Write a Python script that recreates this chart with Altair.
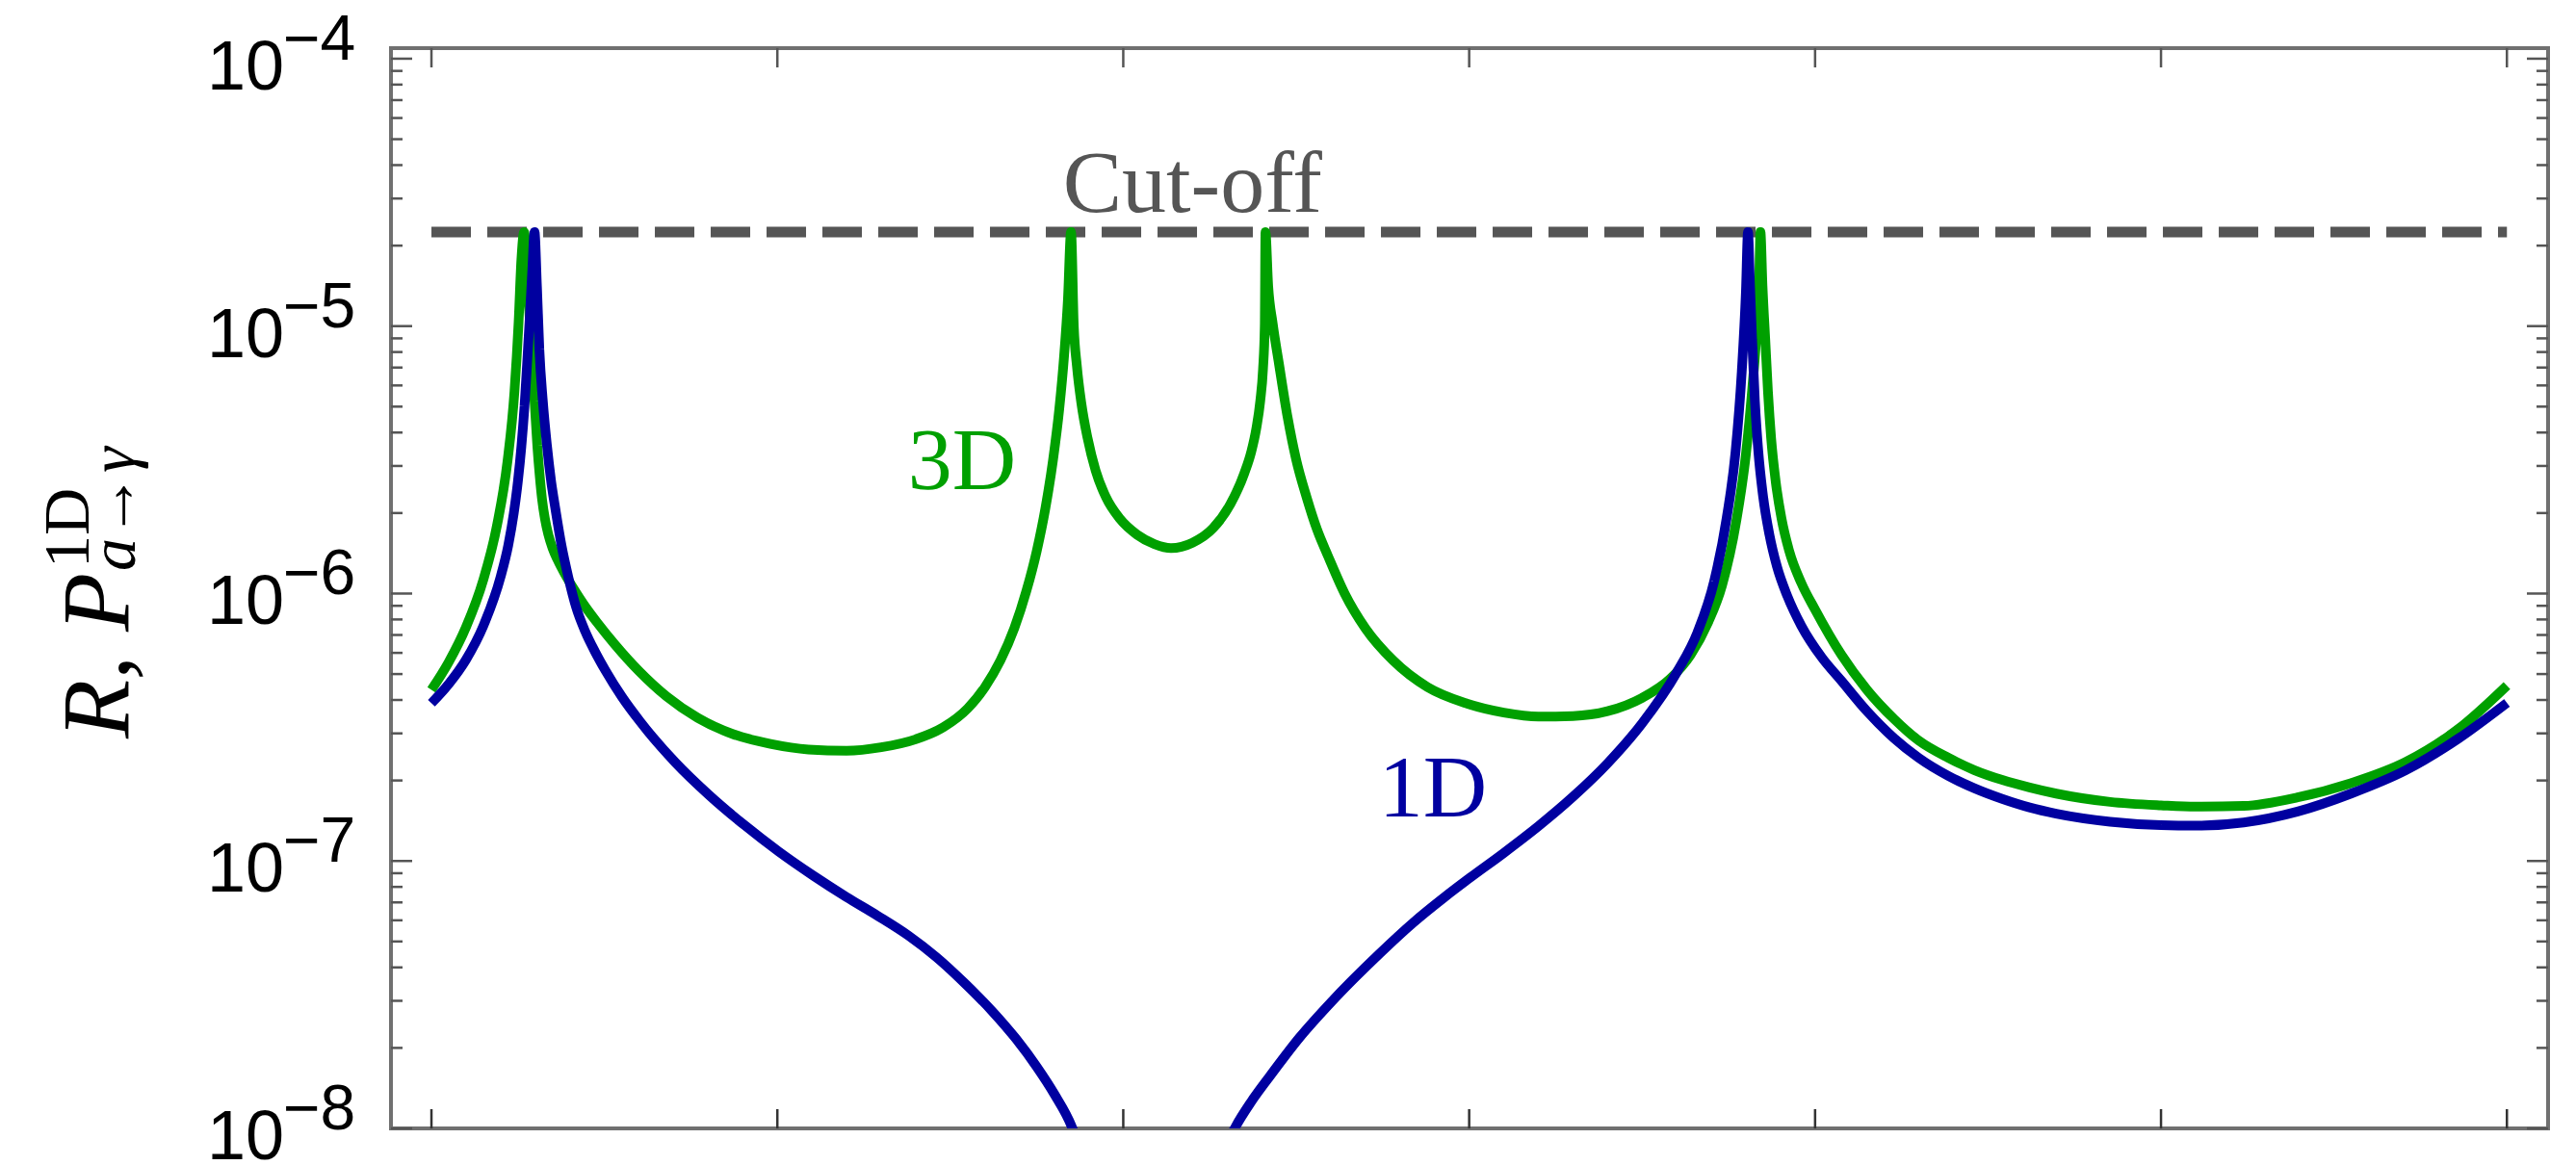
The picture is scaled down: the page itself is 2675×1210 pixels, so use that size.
import altair as alt
import pandas as pd

# ---- curve samples: position (tick units) and log10 of the value ----
green_t = [0.00, 0.05, 0.10, 0.15, 0.19, 0.22, 0.24, 0.252, 0.260, 0.268,
           0.276, 0.283, 0.290, 0.298, 0.306, 0.313, 0.320, 0.328, 0.338, 0.350, 0.365, 0.385,
           0.41, 0.44, 0.48, 0.53, 0.60, 0.68, 0.77, 0.87, 0.98, 1.09, 1.20, 1.30, 1.40, 1.48, 1.55,
           1.60, 1.645, 1.685, 1.72, 1.75, 1.775, 1.797, 1.815, 1.829, 1.840, 1.849,
           1.857, 1.866, 1.879, 1.897, 1.92, 1.95, 1.99, 2.04, 2.09, 2.138, 2.20, 2.26,
           2.31, 2.35, 2.37, 2.385, 2.396, 2.404, 2.409, 2.411,
           2.419, 2.432, 2.45, 2.475, 2.50, 2.53, 2.56, 2.592, 2.64, 2.70, 2.78, 2.88,
           2.99, 3.10, 3.20, 3.30, 3.40, 3.50, 3.58, 3.64, 3.69, 3.731, 3.772, 3.800,
           3.818, 3.830, 3.838, 3.842,
           3.848, 3.856, 3.864, 3.873, 3.886, 3.903, 3.925, 3.96, 4.00, 4.076, 4.15,
           4.229, 4.30, 4.385, 4.46, 4.541, 4.62, 4.697, 4.853, 5.0, 5.1, 5.239, 5.395,
           5.551, 5.707, 5.860, 6.00]
green_lg = [-6.36, -6.256, -6.125, -5.948, -5.742, -5.504, -5.244, -4.984, -4.75, -4.648,
            -4.80, -4.95, -5.087, -5.28, -5.447, -5.56, -5.65, -5.72, -5.78, -5.83, -5.875, -5.925,
            -5.98, -6.04, -6.11, -6.19, -6.29, -6.385, -6.465, -6.525, -6.562, -6.583, -6.588, -6.575, -6.545, -6.50, -6.43,
            -6.35, -6.25, -6.13, -5.99, -5.84, -5.68, -5.50, -5.31, -5.11, -4.90, -4.648,
            -5.00, -5.15, -5.29, -5.42, -5.54, -5.64, -5.72, -5.78, -5.815, -5.83, -5.81, -5.755,
            -5.665, -5.55, -5.47, -5.38, -5.28, -5.16, -5.00, -4.648,
            -4.85, -4.99, -5.14, -5.34, -5.50, -5.64, -5.76, -5.86, -6.00, -6.13, -6.25, -6.35,
            -6.41, -6.445, -6.46, -6.458, -6.44, -6.39, -6.32, -6.23, -6.11, -5.97, -5.73, -5.48,
            -5.24, -5.04, -4.85, -4.648,
            -4.85, -5.05, -5.25, -5.42, -5.58, -5.72, -5.84, -5.96, -6.06, -6.229, -6.36,
            -6.470, -6.55, -6.614, -6.66, -6.697, -6.725, -6.748, -6.779, -6.792, -6.797, -6.794, -6.762,
            -6.708, -6.630, -6.506, -6.344]

blue_t = [0.00, 0.05, 0.10, 0.15, 0.20, 0.222, 0.238, 0.25, 0.26, 0.269, 0.277, 0.285, 0.292, 0.298,
          0.305, 0.312, 0.322, 0.334, 0.346, 0.359, 0.376, 0.396, 0.418, 0.444, 0.474, 0.504,
          0.55, 0.604, 0.704, 0.804, 0.904, 1.004, 1.104, 1.20, 1.29, 1.38, 1.46, 1.54, 1.62,
          1.69, 1.75, 1.80, 1.851, 1.88, 1.92, 2.24, 2.285, 2.325, 2.37, 2.419, 2.511, 2.603,
          2.742, 2.837, 2.929, 3.0, 3.1, 3.2, 3.3, 3.4, 3.5, 3.6, 3.66, 3.708, 3.744, 3.770,
          3.788, 3.800, 3.806, 3.812, 3.818, 3.826, 3.836, 3.850, 3.868, 3.89, 3.92, 3.96,
          4.02, 4.076, 4.15, 4.229, 4.30, 4.385, 4.46, 4.541, 4.62, 4.697, 4.853, 5.0, 5.1,
          5.239, 5.395, 5.551, 5.707, 5.860, 6.00]
blue_lg = [-6.41, -6.338, -6.247, -6.121, -5.937, -5.82, -5.70, -5.58, -5.45, -5.30, -5.13, -4.95, -4.78, -4.648,
           -4.85, -5.087, -5.28, -5.447, -5.58, -5.689, -5.82, -5.94, -6.05, -6.14, -6.22, -6.29,
           -6.385, -6.48, -6.63, -6.755, -6.865, -6.965, -7.055, -7.135, -7.205, -7.28, -7.36, -7.455, -7.56,
           -7.665, -7.77, -7.87, -7.993, -8.1, -8.4, -8.4, -8.1, -7.993, -7.90, -7.813, -7.658, -7.525,
           -7.345, -7.232, -7.135, -7.065, -6.97, -6.87, -6.76, -6.635, -6.485, -6.295, -6.145, -5.955, -5.72, -5.47,
           -5.17, -4.87, -4.648, -4.85, -5.05, -5.28, -5.47, -5.64, -5.78, -5.90, -6.01, -6.12,
           -6.24, -6.326, -6.44, -6.542, -6.615, -6.682, -6.728, -6.768, -6.80, -6.823, -6.853, -6.866, -6.868,
           -6.856, -6.815, -6.747, -6.661, -6.542, -6.409]

cutoff_lg = -4.648
cutoff_span = [0.0, 6.0]
x_ticks = [0, 1, 2, 3, 4, 5, 6]
decades = [-8, -7, -6, -5, -4]
minor_mult = [2, 3, 4, 5, 6, 7, 8, 9]

# ---- layout ----
W, H = 2240, 1122
x_scale = alt.Scale(domain=[-0.117, 6.119], nice=False, zero=False)
y_scale = alt.Scale(type="log", domain=[1e-8, 1.095e-4], nice=False)

GREEN = "#00a000"
BLUE = "#0000a0"
GRAY = "#555555"
FRAME = "#707070"

green_df = pd.DataFrame({"t": green_t, "v": [10 ** g for g in green_lg]})
blue_df = pd.DataFrame({"t": blue_t, "v": [10 ** b for b in blue_lg]})
cut_df = pd.DataFrame({"t0": [cutoff_span[0]], "t1": [cutoff_span[1]], "v": [10 ** cutoff_lg]})

majors = pd.DataFrame({"v": [10.0 ** d for d in decades],
                       "exp": ["\u2212" + str(-d) for d in decades]})
minors = pd.DataFrame({"v": [m * 10.0 ** d for d in decades[:-1] for m in minor_mult]})
xt = pd.DataFrame({"t": x_ticks})

X = lambda f: alt.X(f, scale=x_scale, axis=None)
Y = lambda f: alt.Y(f, scale=y_scale, axis=None)

line_style = dict(clip=True, strokeWidth=10, interpolate="monotone", strokeJoin="bevel")

green_line = alt.Chart(green_df).mark_line(color=GREEN, **line_style).encode(x=X("t:Q"), y=Y("v:Q"))
blue_line = alt.Chart(blue_df).mark_line(color=BLUE, **line_style).encode(x=X("t:Q"), y=Y("v:Q"))

cut_line = alt.Chart(cut_df).mark_rule(color=GRAY, strokeWidth=11, strokeDash=[41, 17]).encode(
    x=X("t0:Q"), x2="t1:Q", y=Y("v:Q"))

# inward frame ticks
tick_col = "#555555"
left_major = alt.Chart(majors).mark_rule(color=tick_col, strokeWidth=2.5).encode(
    y=Y("v:Q"), x=alt.value(0), x2=alt.value(22))
left_minor = alt.Chart(minors).mark_rule(color=tick_col, strokeWidth=2.5).encode(
    y=Y("v:Q"), x=alt.value(0), x2=alt.value(12))
right_major = alt.Chart(majors).mark_rule(color=tick_col, strokeWidth=2.5).encode(
    y=Y("v:Q"), x=alt.value(W - 22), x2=alt.value(W))
right_minor = alt.Chart(minors).mark_rule(color=tick_col, strokeWidth=2.5).encode(
    y=Y("v:Q"), x=alt.value(W - 12), x2=alt.value(W))
bottom_ticks = alt.Chart(xt).mark_rule(color="#333333", strokeWidth=2.5).encode(
    x=X("t:Q"), y=alt.value(H), y2=alt.value(H - 20))
top_ticks = alt.Chart(xt).mark_rule(color=tick_col, strokeWidth=2.5).encode(
    x=X("t:Q"), y=alt.value(0), y2=alt.value(20))

# y tick labels: "10" with a raised exponent
lab_base = alt.Chart(majors).mark_text(
    align="right", baseline="alphabetic", dy=32, fontSize=72, font="Liberation Sans", color="black"
).encode(y=Y("v:Q"), x=alt.value(-111), text=alt.value("10"))
lab_exp = alt.Chart(majors).mark_text(
    align="left", baseline="alphabetic", dy=1, fontSize=66, font="Liberation Sans", color="black"
).encode(y=Y("v:Q"), x=alt.value(-112), text="exp:N")

# curve annotations
notes = pd.DataFrame({
    "t": [2.2, 1.534, 2.895],
    "lg": [-4.572, -5.609, -6.835],
    "txt": ["Cut-off", "3D", "1D"],
    "col": [GRAY, GREEN, BLUE],
})
notes["v"] = [10 ** g for g in notes["lg"]]
note_text = alt.Chart(notes).mark_text(
    align="center", baseline="alphabetic", fontSize=92, font="Liberation Serif"
).encode(x=X("t:Q"), y=Y("v:Q"), text="txt:N", color=alt.Color("col:N", scale=None))

# rotated y-axis title: R, P^{1D}_{a->gamma}
title_parts = pd.DataFrame({
    "s": ["R, P", "1D", "a\u2192\u03b3"],
    "px": [-273, -314, -266],
    "py": [717, 540, 543],
})
t_main = alt.Chart(title_parts.iloc[[0]]).mark_text(
    angle=270, align="left", baseline="alphabetic", fontSize=100, font="Liberation Serif",
    fontStyle="italic", color="black"
).encode(x=alt.X("px:Q", scale=None, axis=None), y=alt.Y("py:Q", scale=None, axis=None), text="s:N")
t_sup = alt.Chart(title_parts.iloc[[1]]).mark_text(
    angle=270, align="left", baseline="alphabetic", fontSize=68, font="Liberation Serif", color="black"
).encode(x=alt.X("px:Q", scale=None, axis=None), y=alt.Y("py:Q", scale=None, axis=None), text="s:N")
t_sub = alt.Chart(title_parts.iloc[[2]]).mark_text(
    angle=270, align="left", baseline="alphabetic", fontSize=68, font="Liberation Serif",
    fontStyle="italic", color="black"
).encode(x=alt.X("px:Q", scale=None, axis=None), y=alt.Y("py:Q", scale=None, axis=None), text="s:N")

chart = alt.layer(
    cut_line, green_line, blue_line,
    left_major, left_minor, right_major, right_minor, bottom_ticks, top_ticks,
    lab_base, lab_exp, note_text,
).resolve_scale(color="independent")

chart = alt.layer(chart, t_main, t_sup, t_sub).resolve_scale(x="independent", y="independent").properties(
    width=W, height=H,
    padding={"left": 406, "top": 50, "right": 2675 - 406 - W, "bottom": 1210 - 50 - H},
    autosize=alt.AutoSizeParams(type="none"),
    background="white",
).configure_view(stroke=FRAME, strokeWidth=4)

chart.save("out.html", embed_options={"renderer": "svg", "actions": False})
